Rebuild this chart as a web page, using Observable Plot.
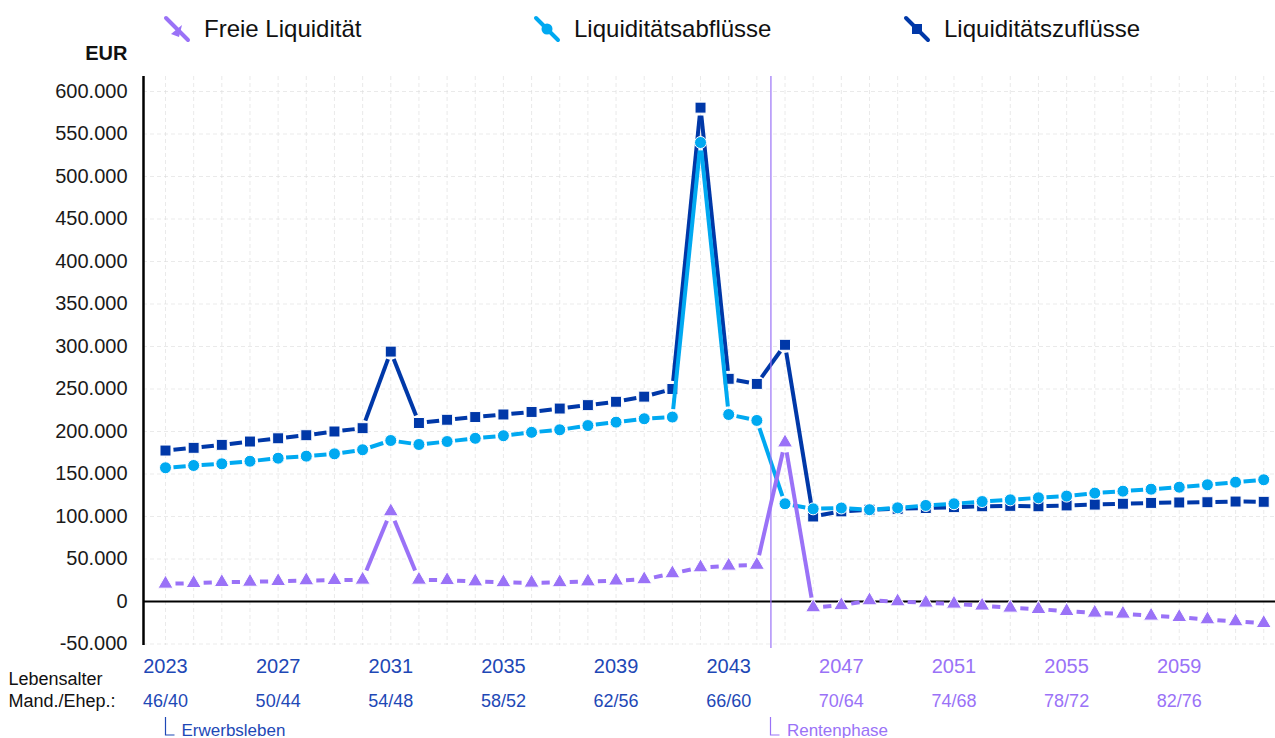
<!DOCTYPE html>
<html><head><meta charset="utf-8">
<script src="https://cdn.jsdelivr.net/npm/d3@7"></script>
<script src="https://cdn.jsdelivr.net/npm/@observablehq/plot@0.6"></script>
<style>
body{margin:0;background:#fff;font-family:"Liberation Sans",Arial,sans-serif;}
#wrap{position:relative;width:1275px;height:738px;overflow:hidden;background:#fff}
#legend{position:relative;height:40px;}
.item{position:absolute;top:0;height:58px;display:flex;align-items:center;font-size:24px;color:#111;white-space:nowrap}
.item svg{margin-right:13px}
</style></head><body><div id="wrap"><div id="legend"></div><div id="chart"></div></div>
<script>
// ---- data ----
const years = [2023,2024,2025,2026,2027,2028,2029,2030,2031,2032,2033,2034,2035,2036,2037,2038,2039,2040,2041,2042,
               2043,2044,2045,2046,2047,2048,2049,2050,2051,2052,2053,2054,2055,2056,2057,2058,2059,2060,2061,2062];
const zufluesse = [177600,180800,184300,188200,192000,195600,200000,203900,294000,210000,213800,217000,220000,223000,227000,231000,235000,241000,250000,581000,
                   262000,256000,302000,100000,106000,108000,109000,110000,111000,112000,112500,112000,113000,114000,115000,116000,116500,116800,117600,117300];
const abfluesse = [157300,160000,162000,165000,168600,171000,173700,178500,189400,184700,188200,192000,195000,199000,202000,207000,211000,215000,217000,540000,
                   220000,213000,115000,109000,110000,108000,110200,113000,115000,117600,119600,122000,124000,127500,129800,132100,134500,137300,140400,143200];
const freieLiquiditaet = [20800,21600,22700,23100,23900,24700,25100,25500,105900,25500,25000,23500,22500,22000,22500,23500,24500,26000,33000,40000,
                          42000,43000,187000,-7000,-4500,1200,0,-1500,-2700,-5000,-7400,-9000,-11400,-13300,-14500,-16800,-18400,-21200,-23500,-25500];
const yTicks = [-50000,0,50000,100000,150000,200000,250000,300000,350000,400000,450000,500000,550000,600000];
const tickYears = [2023,2027,2031,2035,2039,2043,2047,2051,2055,2059];
const tickAges = ["46/40","50/44","54/48","58/52","62/56","66/60","70/64","74/68","78/72","82/76"];
const phaseBoundary = 2044.5;
const phases = [{label:"Erwerbsleben", at:2023, phase:"erwerb"},{label:"Rentenphase", at:phaseBoundary, phase:"rente"}];
const seriesNames = ["Freie Liquidität","Liquiditätsabflüsse","Liquiditätszuflüsse"];

// ---- styles ----
const purple = "#9a72f7", light = "#00a9f1", dark = "#0038a8", blueLabel = "#1e48b6";
const xDomain = [2022.219, 2062.418];
const yDomain = [-51765, 617647];

const rows = years.map((yr,i)=>({year:yr, zu:zufluesse[i], ab:abfluesse[i], frei:freieLiquiditaet[i]}));
const segs = key => rows.slice(0,-1).map((r,i)=>({x1:r.year, y1:r[key], x2:rows[i+1].year, y2:rows[i+1][key]}));
const fmt = d => (d<0?"-":"") + d3.format(",")(Math.abs(d)).replace(/,/g,".");
const phaseColor = p => p==="erwerb" ? blueLabel : purple;

function seriesMarks(key, color, symbol, r, inset){
  return [
    Plot.arrow(segs(key), {x1:"x1", y1:"y1", x2:"x2", y2:"y2", stroke:color, strokeWidth:4,
      headLength:0, insetStart:inset, insetEnd:inset, strokeLinecap:"butt", bend:0}),
    Plot.dot(rows, {x:"year", y:key, symbol, r, fill:color, stroke:"white", strokeWidth:1})
  ];
}

const chart = Plot.plot({
  width:1275, height:698,
  marginTop:36, marginBottom:93, marginLeft:143, marginRight:0,
  style:{fontFamily:"'Liberation Sans', Arial, sans-serif", background:"white", overflow:"visible"},
  x:{domain:xDomain, axis:null},
  y:{domain:yDomain, axis:null},
  marks:[
    Plot.gridX(years, {stroke:"#dcdcdc", strokeOpacity:0.6, strokeDasharray:"4,3"}),
    Plot.gridY(yTicks, {stroke:"#dcdcdc", strokeOpacity:0.6, strokeDasharray:"4,3"}),
    Plot.ruleY([0], {stroke:"#000", strokeWidth:2.2}),
    Plot.ruleX([xDomain[0]], {stroke:"#000", strokeWidth:2.5}),
    Plot.axisY({ticks:yTicks, tickFormat:fmt, tickSize:0, tickPadding:16, fontSize:20, fill:"#1a1a1a", label:null}),
    Plot.text(["EUR"], {frameAnchor:"top-left", dx:-16, dy:-31, textAnchor:"end", fontWeight:"bold", fontSize:20, fill:"#111"}),
    ...seriesMarks("zu", dark, "square", 6.2, 8),
    ...seriesMarks("ab", light, "circle", 6, 8),
    ...seriesMarks("frei", purple, "triangle", 5.6, 10),
    Plot.ruleX([phaseBoundary], {stroke:purple, strokeWidth:1.2, insetBottom:-3}),
    Plot.text(tickYears, {x:d=>d, text:d=>String(d), frameAnchor:"bottom", dy:27, fontSize:20, fill:d=>d<phaseBoundary?blueLabel:purple}),
    Plot.text(tickYears, {x:d=>d, text:(d,i)=>tickAges[i], frameAnchor:"bottom", dy:61, fontSize:18, fill:d=>d<phaseBoundary?blueLabel:purple}),
    Plot.text(["Lebensalter"], {frameAnchor:"bottom-left", dx:-135, dy:39, textAnchor:"start", fontSize:18, fill:"#111"}),
    Plot.text(["Mand./Ehep.:"], {frameAnchor:"bottom-left", dx:-135, dy:61, textAnchor:"start", fontSize:18, fill:"#111"}),
    Plot.text(phases, {x:"at", text:"label", frameAnchor:"bottom", dx:16, dy:90, textAnchor:"start", fontSize:17, fill:d=>phaseColor(d.phase)}),
    (index, scales, values, dims) => {
      const g = d3.create("svg:g");
      const yb = dims.height - dims.marginBottom;
      for (const p of phases) {
        const x = Math.round(scales.x(p.at)) + 0.5;
        g.append("path").attr("d", `M${x},${yb+72}V${yb+90}H${x+9}`)
          .attr("fill","none").attr("stroke", phaseColor(p.phase)).attr("stroke-width",1.2);
      }
      return g.node();
    }
  ]
});
document.getElementById("chart").append(chart);

// ---- legend ----
const legendItems = [
  {name:seriesNames[0], color:purple, sym:"triangle", left:163},
  {name:seriesNames[1], color:light, sym:"circle", left:533},
  {name:seriesNames[2], color:dark, sym:"square", left:903}
];
const legend = document.getElementById("legend");
for (const it of legendItems) {
  const div = document.createElement("div");
  div.className = "item"; div.style.left = it.left + "px";
  let m;
  if (it.sym==="circle") m = `<circle cx="14" cy="14" r="5.5" fill="${it.color}"/>`;
  else if (it.sym==="square") m = `<rect x="9" y="9" width="10" height="10" fill="${it.color}"/>`;
  else m = `<polygon points="8,19 19,10 16,22" fill="${it.color}"/>`;
  div.innerHTML = `<svg width="28" height="28" viewBox="0 0 28 28"><line x1="3" y1="3" x2="25" y2="25" stroke="${it.color}" stroke-width="4" stroke-linecap="round"/>${m}</svg><span>${it.name}</span>`;
  legend.append(div);
}
</script></body></html>
